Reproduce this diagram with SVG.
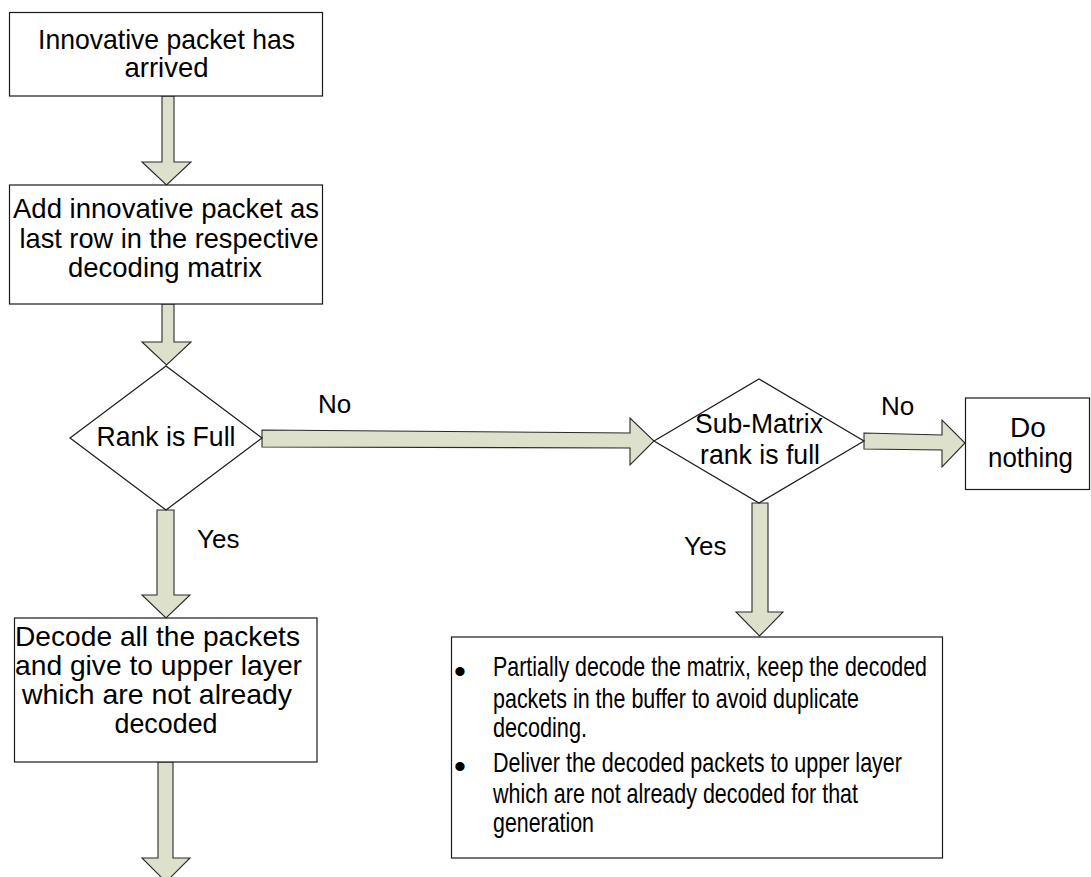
<svg xmlns="http://www.w3.org/2000/svg" width="1091" height="877" viewBox="0 0 1091 877">
<style>
.box{fill:#ffffff;stroke:#1a1a1a;stroke-width:1.2}
.arr{fill:#dde1cb;stroke:#2a2a2a;stroke-width:1.1;stroke-linejoin:miter}
text{font-family:"Liberation Sans",Arial,sans-serif;fill:#000}
.t{font-size:28px;text-anchor:middle}
.lbl{font-size:26px}
.b{font-size:28px}
.dot{font-size:34px}
</style>
<rect width="1091" height="877" fill="#ffffff"/>
<g id="connectors">
<polygon class="arr" points="162,96 174,96 174,162 191,162 166.5,185 142,162 162,162"/>
<polygon class="arr" points="162,304 174,304 174,342 191,342 166.5,365 142,342 162,342"/>
<polygon class="arr" points="157,510 174,510 174,595 190,595 166,618 142,595 157,595"/>
<polygon class="arr" points="158,762 173,762 173,858 190,858 166,882 142,858 158,858"/>
<polygon class="arr" points="262,430 630,433 630,418 654,441 630,465 630,448 262,447"/>
<polygon class="arr" points="864,433 942,435 942,420 965,443 942,467 942,450 864,449"/>
<polygon class="arr" points="752,503 768,503 768,612 783,612 759.5,636 736,612 752,612"/>
<text class="lbl" x="318" y="413">No</text>
<text class="lbl" x="881" y="415">No</text>
<text class="lbl" x="197" y="548">Yes</text>
<text class="lbl" x="684" y="555">Yes</text>
</g>
<g id="n1">
<rect class="box" x="9.5" y="12.5" width="313" height="83.5"/>
<text class="t" x="166.5" y="49" textLength="257" lengthAdjust="spacingAndGlyphs">Innovative packet has</text>
<text class="t" x="166.5" y="77" textLength="84" lengthAdjust="spacingAndGlyphs">arrived</text>
</g>
<g id="n2">
<rect class="box" x="9.5" y="185" width="313" height="119"/>
<text class="t" x="166" y="218" textLength="306" lengthAdjust="spacingAndGlyphs">Add innovative packet as</text>
<text class="t" x="169" y="248" textLength="299" lengthAdjust="spacingAndGlyphs">last row in the respective</text>
<text class="t" x="165" y="277" textLength="194" lengthAdjust="spacingAndGlyphs">decoding matrix</text>
</g>
<g id="n3">
<polygon class="box" points="166,366 262,438 166,510 70,438"/>
<text class="t" x="166" y="446" textLength="139" lengthAdjust="spacingAndGlyphs">Rank is Full</text>
</g>
<g id="n4">
<rect class="box" x="14.5" y="618" width="302.5" height="144"/>
<text class="t" x="157.5" y="646" textLength="285" lengthAdjust="spacingAndGlyphs">Decode all the packets</text>
<text class="t" x="158.5" y="675" textLength="287" lengthAdjust="spacingAndGlyphs">and give to upper layer</text>
<text class="t" x="157" y="704" textLength="270" lengthAdjust="spacingAndGlyphs">which are not already</text>
<text class="t" x="166" y="733" textLength="103" lengthAdjust="spacingAndGlyphs">decoded</text>
</g>
<g id="n5">
<polygon class="box" points="759,379 864,441 759,503 654,441"/>
<text class="t" x="759" y="433" textLength="128" lengthAdjust="spacingAndGlyphs">Sub-Matrix</text>
<text class="t" x="760" y="464" textLength="120" lengthAdjust="spacingAndGlyphs">rank is full</text>
</g>
<g id="n6">
<rect class="box" x="965.5" y="398" width="124" height="91.5"/>
<text class="t" x="1028" y="437">Do</text>
<text class="t" x="1030.5" y="467" textLength="85" lengthAdjust="spacingAndGlyphs">nothing</text>
</g>
<g id="n7">
<rect class="box" x="451.5" y="637" width="491" height="221"/>
<text class="dot" x="454" y="683">•</text>
<text class="b" x="493" y="676" textLength="434" lengthAdjust="spacingAndGlyphs">Partially decode the matrix, keep the decoded</text>
<text class="b" x="493" y="708" textLength="366" lengthAdjust="spacingAndGlyphs">packets in the buffer to avoid duplicate</text>
<text class="b" x="493" y="737" textLength="94" lengthAdjust="spacingAndGlyphs">decoding.</text>
<text class="dot" x="454" y="778">•</text>
<text class="b" x="493" y="772" textLength="409" lengthAdjust="spacingAndGlyphs">Deliver the decoded packets to upper layer</text>
<text class="b" x="493" y="803" textLength="365" lengthAdjust="spacingAndGlyphs">which are not already decoded for that</text>
<text class="b" x="493" y="832" textLength="101" lengthAdjust="spacingAndGlyphs">generation</text>
</g>
</svg>
